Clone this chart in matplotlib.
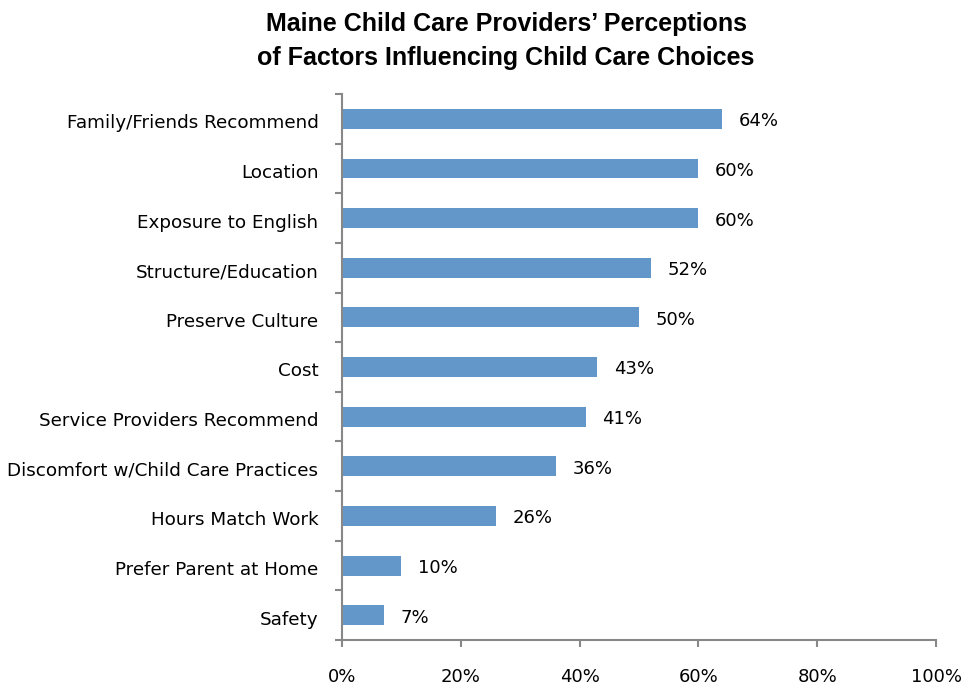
import matplotlib.pyplot as plt
import numpy as np
from matplotlib.ticker import FixedLocator, PercentFormatter

categories = ["Family/Friends Recommend", "Location", "Exposure to English",
              "Structure/Education", "Preserve Culture", "Cost",
              "Service Providers Recommend", "Discomfort w/Child Care Practices",
              "Hours Match Work", "Prefer Parent at Home", "Safety"]
values = [64, 60, 60, 52, 50, 43, 41, 36, 26, 10, 7]

fig = plt.figure(figsize=(9.64, 6.86), dpi=100)
ax = fig.add_axes([0.3548, 0.067, 0.6162, 0.796])

y = np.arange(len(categories))[::-1]
ax.barh(y, values, height=0.4, color="#6497C9")
for yi, v in zip(y, values):
    ax.text(v + 2.8, yi - 0.05, f"{v}%", va="center", ha="left", fontsize=13)

ax.set_xlim(0, 100)
ax.set_ylim(-0.5, len(categories) - 0.5)
ax.set_xticks([0, 20, 40, 60, 80, 100])
ax.xaxis.set_major_formatter(PercentFormatter(decimals=0))
ax.set_yticks(y - 0.05)
ax.set_yticklabels(categories)
ax.set_yticks(np.arange(-0.5, len(categories)), minor=True)

ax.tick_params(axis="y", which="major", length=0, pad=17, labelsize=13.2)
ax.tick_params(axis="y", which="minor", length=5, width=1.5, color="#888888")
ax.tick_params(axis="x", length=5, width=1.5, color="#888888", pad=15, labelsize=13)

for s in ["top", "right"]:
    ax.spines[s].set_visible(False)
for s in ["left", "bottom"]:
    ax.spines[s].set_color("#888888")
    ax.spines[s].set_linewidth(1.5)

fig.suptitle("Maine Child Care Providers\u2019 Perceptions\nof Factors Influencing Child Care Choices",
             x=0.525, y=0.982, fontsize=18, fontweight="bold",
             family=["Liberation Sans", "DejaVu Sans"], linespacing=1.5)

fig.savefig("out.png", dpi=100)
